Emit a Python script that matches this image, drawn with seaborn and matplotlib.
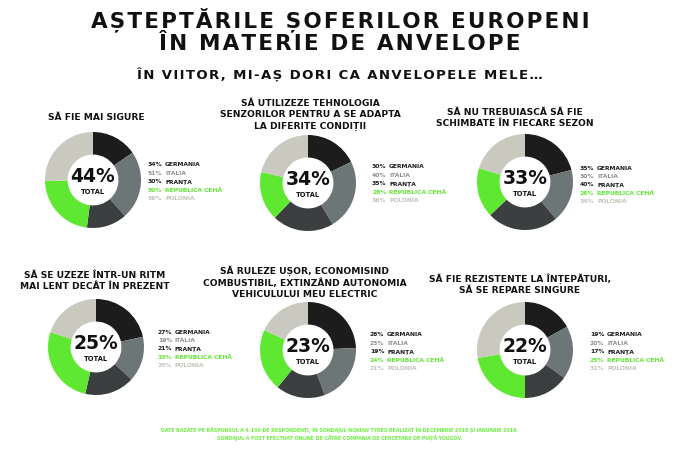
import matplotlib
matplotlib.use("Agg")
import matplotlib.pyplot as plt
import seaborn as sns

sns.set_theme(style="white")
plt.rcParams['font.family'] = ['DejaVu Sans']

# ---- data ----
countries = ["GERMANIA", "ITALIA", "FRANȚA", "REPUBLICA CEHĂ", "POLONIA"]
titles = [
    "SĂ FIE MAI SIGURE",
    "SĂ UTILIZEZE TEHNOLOGIA\nSENZORILOR PENTRU A SE ADAPTA\nLA DIFERITE CONDIȚII",
    "SĂ NU TREBUIASCĂ SĂ FIE\nSCHIMBATE ÎN FIECARE SEZON",
    "SĂ SE UZEZE ÎNTR-UN RITM\nMAI LENT DECÂT ÎN PREZENT",
    "SĂ RULEZE UȘOR, ECONOMISIND\nCOMBUSTIBIL, EXTINZÂND AUTONOMIA\nVEHICULULUI MEU ELECTRIC",
    "SĂ FIE REZISTENTE LA ÎNȚEPĂTURI,\nSĂ SE REPARE SINGURE",
]
totals = [44, 34, 33, 25, 23, 22]
safer = [34, 51, 30, 50, 56]
sensors = [30, 40, 35, 28, 36]
no_change = [35, 30, 40, 28, 34]
slower_wear = [27, 19, 21, 33, 25]
efficient = [28, 23, 19, 24, 21]
puncture = [19, 20, 17, 25, 31]
series = [safer, sensors, no_change, slower_wear, efficient, puncture]

main_title = ["AȘTEPTĂRILE ȘOFERILOR EUROPENI", "ÎN MATERIE DE ANVELOPE"]
subtitle = "ÎN VIITOR, MI-AȘ DORI CA ANVELOPELE MELE…"
footer = ("DATE BAZATE PE RĂSPUNSUL A 4.100 DE RESPONDENȚI, ÎN SONDAJUL NOKIAN TYRES REALIZAT ÎN DECEMBRIE 2018 ȘI IANUARIE 2019.\n"
          "SONDAJUL A FOST EFECTUAT ONLINE DE CĂTRE COMPANIA DE CERCETARE DE PIAȚĂ YOUGOV.")

# ---- style ----
wedge_colors = ["#1c1c1c", "#6d7676", "#3b3f3f", "#5fe832", "#c9c9bf"]
label_colors = ["#1c1c1c", "#8a9090", "#1c1c1c", "#5fe832", "#c4c4bc"]


def spaced(s, sep="\u200a"):
    return sep.join(s)


W, H = 680, 450
fig = plt.figure(figsize=(W / 100, H / 100), dpi=100)
fig.patch.set_facecolor("white")


def fx(x):
    return x / W


def fy(y):
    return 1 - y / H


fig.text(fx(340), fy(20), spaced(main_title[0]), ha="center", va="center", fontsize=15.5,
         fontweight="bold", color="#111111")
fig.text(fx(340), fy(44), spaced(main_title[1]), ha="center", va="center", fontsize=15.5,
         fontweight="bold", color="#111111")
fig.text(fx(340), fy(75), spaced(subtitle), ha="center", va="center", fontsize=9.5,
         fontweight="bold", color="#111111")

centers = [(93, 180), (308, 183), (525, 182), (96, 347), (308, 350), (525, 350)]
title_pos = [(96, 118), (310, 115), (515, 118), (95, 281), (305, 282), (520, 284)]
legend_pos = [(148, 165), (372, 167), (580, 168), (158, 332), (370, 335), (590, 335)]
R = 48

for i in range(6):
    cx, cy = centers[i]
    ax = fig.add_axes([fx(cx - R), fy(cy + R), 2 * R / W, 2 * R / H])
    ax.pie(series[i], colors=wedge_colors, startangle=90, counterclock=False,
           radius=1.0, wedgeprops=dict(width=0.47, linewidth=0))
    ax.set_aspect("equal")
    ax.set_xlim(-1, 1)
    ax.set_ylim(-1, 1)
    ax.axis("off")
    ax.text(0, 0.08, f"{totals[i]}%", ha="center", va="center", fontsize=13.5,
            fontweight="bold", color="#111111")
    ax.text(0, -0.26, "TOTAL", ha="center", va="center", fontsize=4.8,
            fontweight="bold", color="#111111")

    tx, ty = title_pos[i]
    fig.text(fx(tx), fy(ty), titles[i], ha="center", va="center", fontsize=6.6,
             fontweight="bold", color="#111111", linespacing=1.35)

    lx, ly = legend_pos[i]
    for j, (c, v) in enumerate(zip(countries, series[i])):
        yy = ly + j * 8.4
        fig.text(fx(lx), fy(yy), f"{v}%", ha="left", va="center", fontsize=4.3,
                 fontweight="bold", color=label_colors[j])
        fig.text(fx(lx + 17), fy(yy), c, ha="left", va="center", fontsize=4.3,
                 fontweight="bold", color=label_colors[j])

fig.text(fx(340), fy(434), footer, ha="center", va="center", fontsize=3.4,
         fontweight="bold", color="#6ef040", linespacing=1.4)

fig.savefig("out.png", dpi=100, facecolor="white")
